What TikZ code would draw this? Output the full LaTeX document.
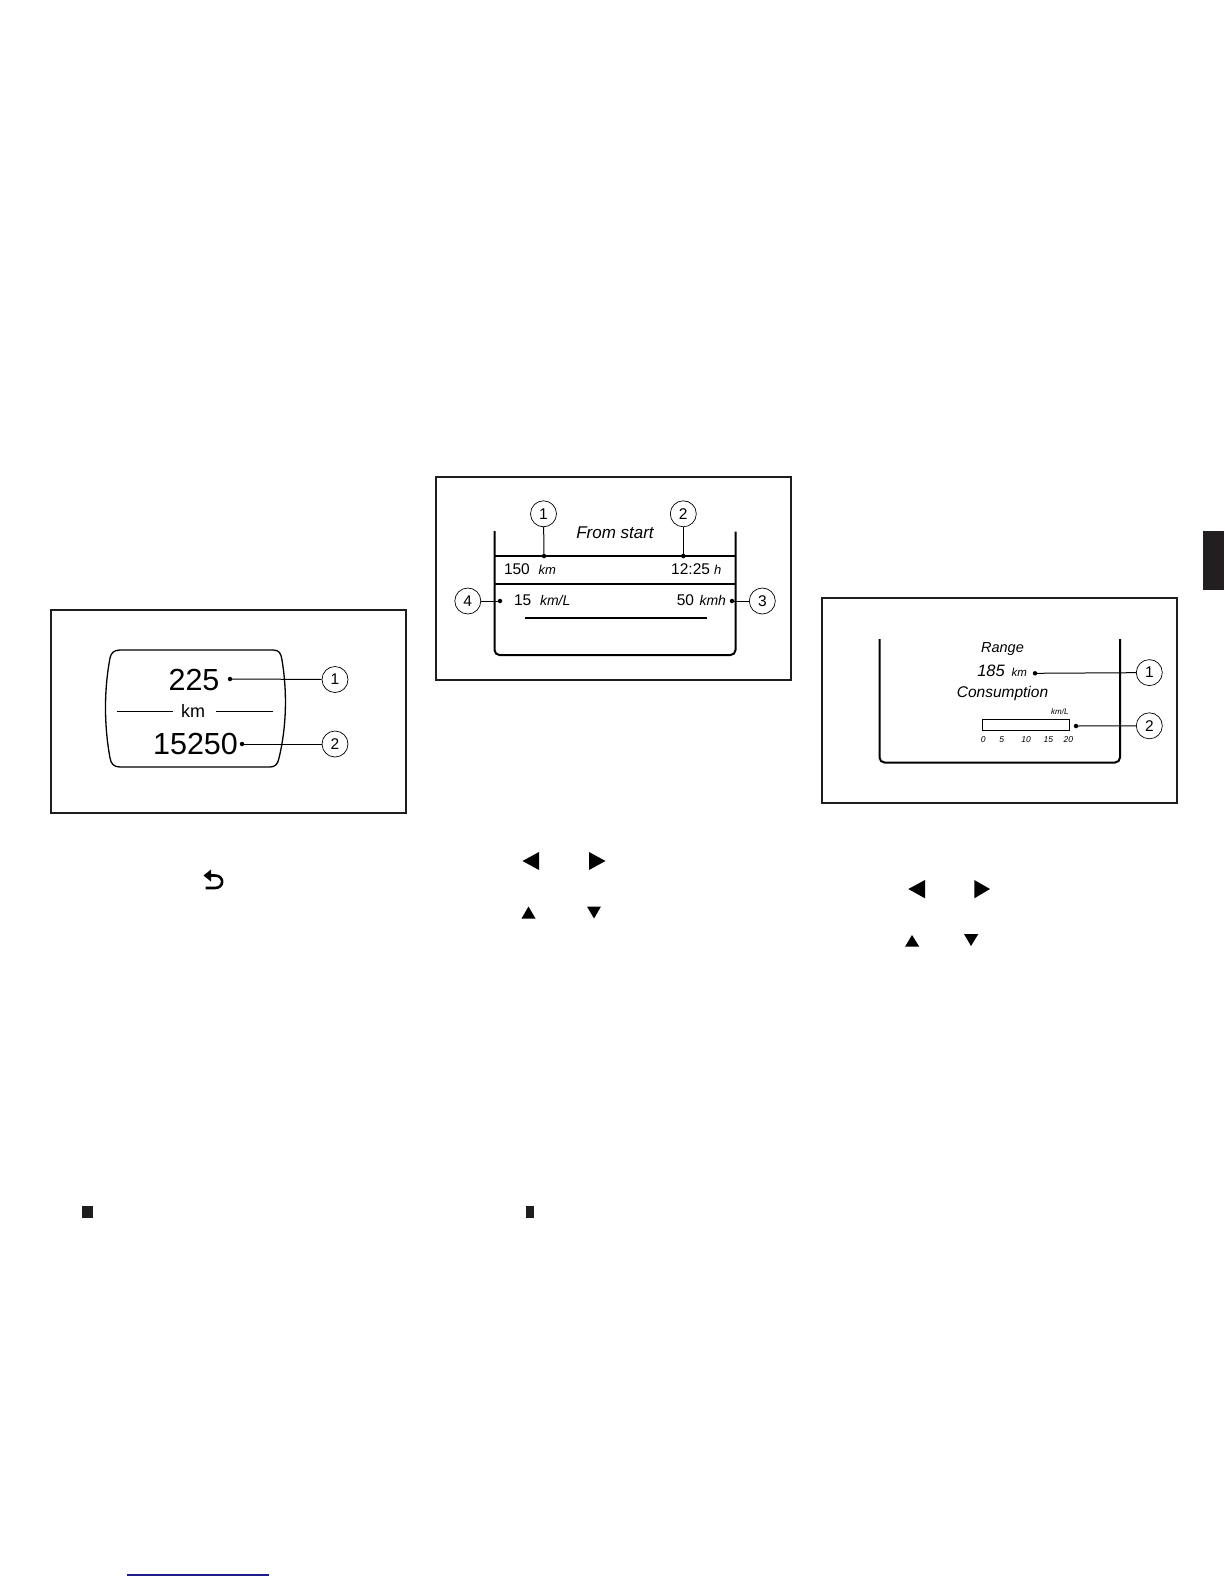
\documentclass[tikz,border=0pt]{standalone}
\usepackage{fontspec}
\setmainfont{Liberation Sans}
\newcommand\myfs[1]{\fontsize{#1}{#1}\selectfont}
\definecolor{inkk}{HTML}{1E1E1E}
\definecolor{tabk}{HTML}{231F20}
\definecolor{linkblue}{HTML}{1C1C8C}
\begin{document}
\begin{tikzpicture}[x=1pt,y=-1pt,
  frame/.style={draw=inkk, line width=1.4pt},
  disp/.style={draw=black, line width=2pt},
  callout/.style={circle, draw=black, line width=0.7pt, minimum size=26pt, inner sep=0pt, font=\myfs{15.5}},
  lead/.style={draw=black, line width=1pt},
  pin/.style={circle, fill=black, inner sep=0pt, minimum size=4.5pt},
  txt/.style={inner sep=0pt, outer sep=0pt},
  tri/.style={fill=black, draw=none},
]
\useasboundingbox (0,0) rectangle (1224,1584);

% ---------- Panel 1 ----------
\draw[frame] (51,610) rectangle (406,813);
\draw[line width=1.3pt] (120,650) -- (273,650)
  .. controls (279,650) and (281,653) .. (282,660)
  .. controls (287,690) and (287,725) .. (279,758)
  .. controls (278,764) and (275,767) .. (270,767)
  -- (120,767)
  .. controls (114,767) and (111,764) .. (110,758)
  .. controls (104,725) and (104,690) .. (110,658)
  .. controls (111,653) and (114,650) .. (120,650) -- cycle;
\node[txt, anchor=base, font=\myfs{30.5}] (p1a) at (194,690.7) {225};
\node[txt, anchor=base, font=\myfs{18}] (p1km) at (193,717.5) {km};
\node[txt, anchor=base, font=\myfs{30.5}] (p1b) at (195.5,754.3) {15250};
\draw[line width=1pt] (117,711) -- (173,711);
\draw[line width=1pt] (216,711) -- (273,711);
\node[pin] (p1d1) at (230,679) {};
\node[pin] (p1d2) at (242,744) {};
\node[callout] (p1c1) at (335,679.5) {1};
\node[callout] (p1c2) at (335,744) {2};
\draw[lead] (p1d1.center) -- (p1c1);
\draw[lead] (p1d2.center) -- (p1c2);

% ---------- Panel 2 ----------
\draw[frame] (436,477) rectangle (791,680);
\draw[disp, rounded corners=5pt] (494.5,531) -- (494.5,655) -- (735.5,655) -- (735.5,531.5);
\draw[disp] (494.5,556) -- (735.5,556);
\draw[disp] (494.5,583.5) -- (735.5,583.5);
\draw[disp] (525,618) -- (707,618);
\node[txt, anchor=base, font=\myfs{17}\itshape] (p2t) at (615,538.3) {From start};
\node[txt, anchor=base west, font=\myfs{15.5}] (p2a) at (504,574.5) {150};
\node[txt, anchor=base west, font=\myfs{13}\itshape] (p2au) at (538.5,574.5) {km};
\node[txt, anchor=base east, font=\myfs{15.5}] (p2b) at (710,574.5) {12:25};
\node[txt, anchor=base west, font=\myfs{13}\itshape] (p2bu) at (714,574.5) {h};
\node[txt, anchor=base west, font=\myfs{15.5}] (p2c) at (514,605.5) {15};
\node[txt, anchor=base west, font=\myfs{14}\itshape] (p2cu) at (540,605.5) {km/L};
\node[txt, anchor=base east, font=\myfs{15.5}] (p2d) at (694,605.5) {50};
\node[txt, anchor=base west, font=\myfs{14}\itshape] (p2du) at (699.5,605.5) {kmh};
\node[pin] (p2d1) at (544,556) {};
\node[pin] (p2d2) at (683.3,556) {};
\node[pin] (p2d3) at (732,601) {};
\node[pin] (p2d4) at (500,601) {};
\node[callout] (p2c1) at (543.5,513.8) {1};
\node[callout] (p2c2) at (683.3,513.8) {2};
\node[callout] (p2c3) at (762.3,601) {3};
\node[callout] (p2c4) at (467.8,601) {4};
\draw[lead] (p2c1) -- (p2d1.center);
\draw[lead] (p2c2) -- (p2d2.center);
\draw[lead] (p2d3.center) -- (p2c3);
\draw[lead] (p2d4.center) -- (p2c4);

% ---------- Panel 3 ----------
\draw[frame] (822,598) rectangle (1177,803);
\draw[disp, rounded corners=5pt] (879.5,639) -- (879.5,762.5) -- (1120,762.5) -- (1120,639);
\node[txt, anchor=base, font=\myfs{14.5}\itshape] (p3r) at (1002.5,652.3) {Range};
\node[txt, anchor=base west, font=\myfs{16.5}\itshape] (p3v) at (977.3,676.7) {185};
\node[txt, anchor=base west, font=\myfs{11.5}\itshape] (p3vu) at (1011.5,676.7) {km};
\node[txt, anchor=base, font=\myfs{15.5}\itshape] (p3c) at (1002.5,697.7) {Consumption};
\node[txt, anchor=base east, font=\myfs{8}\itshape] (p3u) at (1068.5,714.5) {km/L};
\draw[line width=0.9pt] (982.7,719.3) rectangle (1069.3,730);
\foreach \xx/\lab/\nm in {983.3/0/a, 1001.7/5/b, 1026/10/c, 1048.3/15/d, 1068.3/20/e}
  \node[txt, anchor=base, font=\myfs{8.5}\itshape] (p3tick\nm) at (\xx,742.3) {\lab};
\node[pin] (p3d1) at (1035,673.3) {};
\node[pin] (p3d2) at (1076,726) {};
\node[callout] (p3c1) at (1149.3,672.6) {1};
\node[callout] (p3c2) at (1149.3,725.8) {2};
\draw[lead] (p3d1.center) -- (p3c1);
\draw[lead] (p3d2.center) -- (p3c2);

% ---------- Symbols ----------
% return symbol
\draw[line width=2.6pt] (205.5,888) -- (215,888)
  .. controls (224.5,888) and (224.5,875.5) .. (215,875.5) -- (210,875.5);
\fill (203.5,875.5) -- (211,869.5) -- (211,881.5) -- cycle;
% panel 2 arrows
\fill[tri] (522.5,861) -- (539,852) -- (539,870) -- cycle;
\fill[tri] (605.5,861) -- (589,852) -- (589,870) -- cycle;
\fill[tri] (528.5,906.5) -- (521.5,918.5) -- (535.5,918.5) -- cycle;
\fill[tri] (594,918.5) -- (587,906.5) -- (601,906.5) -- cycle;
% panel 3 arrows
\fill[tri] (908.3,889) -- (925,880) -- (925,898.3) -- cycle;
\fill[tri] (990,889) -- (974.3,880) -- (974.3,898.3) -- cycle;
\fill[tri] (912,935) -- (905,946.7) -- (919.3,946.7) -- cycle;
\fill[tri] (971,946) -- (964,934) -- (978.3,934) -- cycle;

% squares, link line, side tab
\fill[inkk] (82,1206) rectangle (93,1218);
\fill[inkk] (526,1206) rectangle (534,1218);
\draw[linkblue, line width=1.3pt] (127,1575) -- (269,1575);
\fill[tabk] (1203,531) rectangle (1224,590);
\end{tikzpicture}
\end{document}
